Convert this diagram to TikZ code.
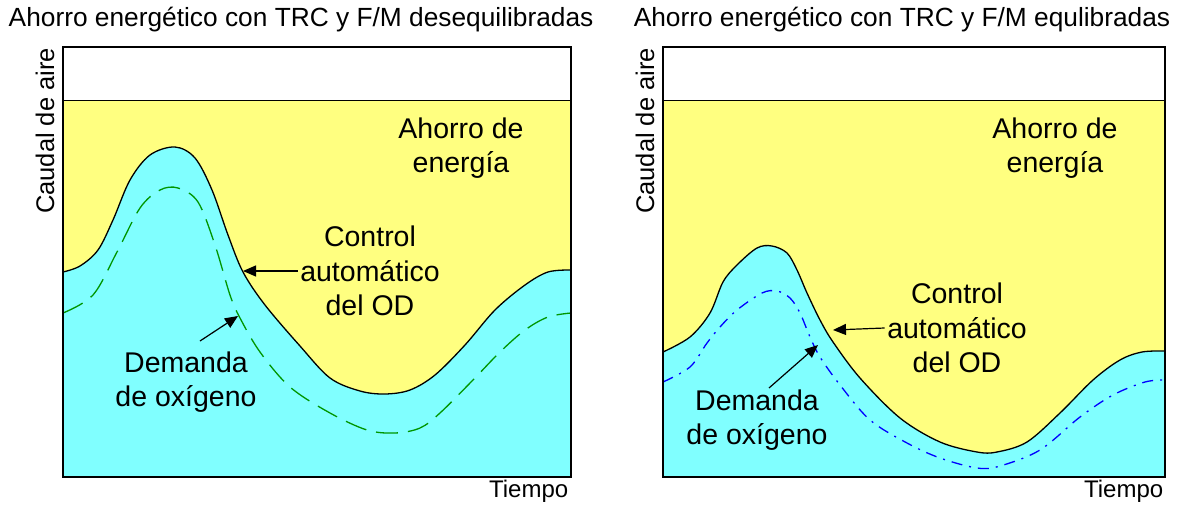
\documentclass[tikz,border=0pt]{standalone}
\usepackage{fontspec}
\setmainfont{Liberation Sans}
\usetikzlibrary{arrows.meta}
\usetikzlibrary{positioning}
\definecolor{savingyellow}{RGB}{255,255,128}
\definecolor{demandcyan}{RGB}{128,255,255}
\definecolor{demandgreen}{RGB}{0,150,0}
\definecolor{demandblue}{RGB}{0,0,255}

\begin{document}
\begin{tikzpicture}[x=1pt, y=-1pt, line width=1.5pt,
    panel/.style={draw=black, line width=2pt},
    airflow/.style={draw=black, line width=1.3pt, fill=demandcyan},
    label/.style={font=\fontsize{28.5}{34.5}\selectfont, align=center, inner sep=2pt},
    small/.style={font=\fontsize{24}{28}\selectfont, inner sep=0pt},
    heading/.style={font=\fontsize{26.3}{30}\selectfont, inner sep=0pt},
    pointer/.style={-{Triangle[length=13pt,width=11pt]}, line width=1.2pt}]
    \useasboundingbox (0,0) rectangle (1179,504);

    % desequilibradas
    \begin{scope}
        \fill[savingyellow] (63,100) rectangle (571,477);
        \filldraw[airflow] (63,477) -- plot[smooth, tension=0.55] coordinates {(63,272) (80,266) (98,250) (113,220) (130,180) (150,155) (175,147) (195,158) (212,190) (228,235) (243,272) (265,305) (300,346) (330,378) (360,391) (385,394) (410,390) (435,375) (465,345) (495,310) (525,285) (548,272) (571,270)} -- (571,477) -- cycle;
        \draw[demandgreen, line width=1.3pt, dash pattern=on 22pt off 10pt] plot[smooth, tension=0.55] coordinates {(63,313) (93,295) (117,252) (140,208) (160,190) (178,188) (198,202) (215,245) (230,295) (240,318) (260,352) (290,387) (330,413) (367,430) (395,433) (420,428) (440,413) (473,380) (500,352) (525,330) (548,317) (571,313)};
        \draw[line width=1pt] (63,100) -- (571,100);
        \draw[panel] (63,47) rectangle (571,477);

        \node (titleL) [heading, anchor=base west] at (8,26) {Ahorro energético con TRC y F/M desequilibradas};
        \node (axisyL) [small, font=\fontsize{25.5}{28}\selectfont, rotate=90] at (45,131) {Caudal de aire};
        \node (axisxL) [small, anchor=base east] at (569,497) {Tiempo};

        \node (savingL) [label] at (461,148) {Ahorro de\\energía};
        \node (controlL) [label] at (370,271) {Control\\automático\\del OD};
        \node (demandL) [label] at (186,382) {Demanda\\de oxígeno};

        \coordinate (controltipL) at (243,271);
        \coordinate (demandtailL) at (200,341);
        \coordinate (demandtipL) at (238,316);
        \draw[pointer] (controlL.west) -- (controltipL);
        \draw[pointer] (demandtailL) -- (demandtipL);
    \end{scope}

    % equlibradas
    \begin{scope}
        \fill[savingyellow] (663,100) rectangle (1165,477);
        \filldraw[airflow] (663,477) -- plot[smooth, tension=0.55] coordinates {(663,352) (690,337) (710,313) (723,282) (737,265) (757,248) (772,246) (787,253) (797,270) (807,293) (820,320) (833,342) (860,378) (900,418) (940,442) (977,452) (997,452) (1027,442) (1060,413) (1093,380) (1120,360) (1142,352) (1165,351)} -- (1165,477) -- cycle;
        \draw[demandblue, line width=1.3pt, dash pattern=on 11pt off 7pt on 2pt off 7pt] plot[smooth, tension=0.55] coordinates {(663,382) (690,367) (707,343) (720,327) (737,310) (762,293) (777,291) (790,298) (800,313) (810,337) (820,357) (840,385) (870,420) (907,443) (940,458) (977,468) (1000,466) (1040,450) (1080,417) (1113,395) (1145,382) (1165,380)};
        \draw[line width=1pt] (663,100) -- (1165,100);
        \draw[panel] (663,47) rectangle (1165,477);

        \node (titleR) [heading, anchor=base west] at (633,26) {Ahorro energético con TRC y F/M equlibradas};
        \node (axisyR) [small, font=\fontsize{25.5}{28}\selectfont, rotate=90] at (645,131) {Caudal de aire};
        \node (axisxR) [small, anchor=base east] at (1164,497) {Tiempo};

        \node (savingR) [label] at (1055,148) {Ahorro de\\energía};
        \node (controlR) [label] at (957,328) {Control\\automático\\del OD};
        \node (demandR) [label] at (757,420) {Demanda\\de oxígeno};

        \coordinate (controltipR) at (833,330);
        \coordinate (demandtailR) at (769,388);
        \coordinate (demandtipR) at (818,345);
        \draw[pointer] (controlR.west) -- (controltipR);
        \draw[pointer] (demandtailR) -- (demandtipR);
    \end{scope}
\end{tikzpicture}
\end{document}
